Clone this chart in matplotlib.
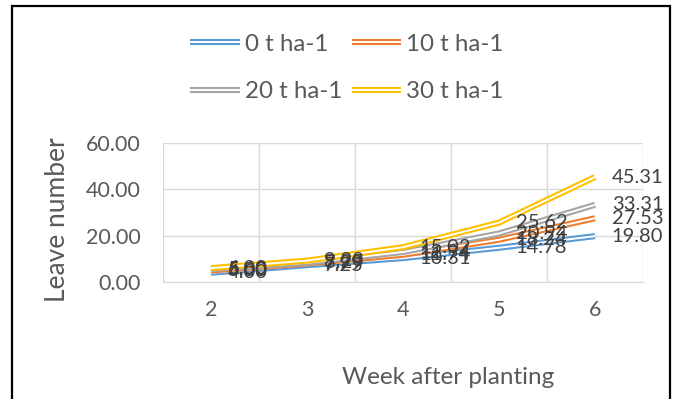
import matplotlib
matplotlib.use("Agg")
import matplotlib.pyplot as plt
import matplotlib.patheffects as pe
from matplotlib.patches import Rectangle

plt.rcParams['font.family'] = ['Lato', 'DejaVu Sans']

weeks = ["2", "3", "4", "5", "6"]
series_names = ["0 t ha-1", "10 t ha-1", "20 t ha-1", "30 t ha-1"]
s0 = [4.00, 7.25, 10.31, 14.78, 19.80]
s10 = [5.00, 7.99, 11.74, 18.24, 27.53]
s20 = [5.60, 8.29, 12.94, 20.94, 33.31]
s30 = [6.00, 9.23, 15.02, 25.62, 45.31]
colors = ["#5B9BD5", "#ED7D31", "#A5A5A5", "#FFC000"]
yticks = [0, 20, 40, 60]

W, H = 676, 399
fig = plt.figure(figsize=(W / 100, H / 100), dpi=100)
ax = fig.add_axes([163 / W, 1 - 282 / H, 480 / W, 139 / H])

x = list(range(len(weeks)))
lines = []
for vals, c, name in zip([s0, s10, s20, s30], colors, series_names):
    ln, = ax.plot(x, vals, color="white", lw=1.4, label=name, solid_capstyle="butt",
                  path_effects=[pe.Stroke(linewidth=4.4, foreground=c, capstyle="butt"), pe.Normal()],
                  zorder=3)
    lines.append(ln)
    for xi, v in zip(x, vals):
        ax.annotate(f"{v:.2f}", (xi, v), xytext=(12, 0), textcoords="offset points",
                    ha="left", va="center", fontsize=14.5, color="#404040", zorder=4,
                    annotation_clip=False)

ax.set_xlim(-0.5, len(weeks) - 0.5)
ax.set_ylim(0, 60)
ax.set_xticks(x)
ax.set_xticklabels(weeks)
ax.set_xticks([i - 0.5 for i in range(len(weeks) + 1)], minor=True)
ax.set_yticks(yticks)
ax.set_yticklabels([f"{t:.2f}" for t in yticks])
ax.grid(True, which="minor", axis="x", color="#D9D9D9", lw=1)
ax.grid(True, which="major", axis="y", color="#D9D9D9", lw=1)
ax.tick_params(axis="both", which="both", length=0, labelsize=15.5, labelcolor="#595959")
ax.tick_params(axis="x", pad=13)
ax.tick_params(axis="y", pad=16)
for s in ["top", "right", "left"]:
    ax.spines[s].set_visible(False)
ax.spines["bottom"].set_color("#D9D9D9")
ax.set_axisbelow(True)

ax.set_xlabel("Week after planting", fontsize=17.5, color="#595959")
ax.xaxis.set_label_coords((448 - 163) / 480, -(367 - 282) / 139)
ax.set_ylabel("Leave number", fontsize=19, color="#595959")
ax.yaxis.set_label_coords(-(163 - 70) / 480, (282 - 220) / 139)

order = [0, 2, 1, 3]
leg = fig.legend([lines[i] for i in order], [series_names[i] for i in order],
                 loc="center", bbox_to_anchor=(347 / W, 1 - 68 / H), ncol=2, frameon=False,
                 fontsize=17.4, handlelength=2.05, handletextpad=0.2, columnspacing=0.4,
                 labelspacing=1.1, labelcolor="#595959")

fig.add_artist(Rectangle((12 / W, -0.05), (670 - 12) / W, 1 - 6 / H + 0.05,
                         transform=fig.transFigure, fill=False, ec="black", lw=1.6))

fig.savefig("out.png", dpi=100)
